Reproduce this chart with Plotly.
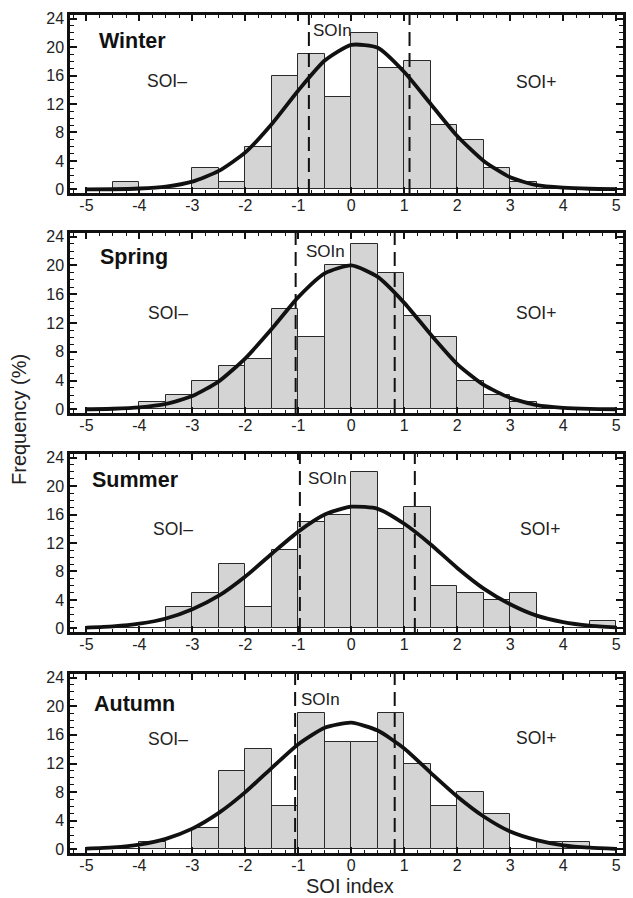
import plotly.graph_objects as go

# ---------------- data ----------------
bin_left = [-5.0, -4.5, -4.0, -3.5, -3.0, -2.5, -2.0, -1.5, -1.0, -0.5,
            0.0, 0.5, 1.0, 1.5, 2.0, 2.5, 3.0, 3.5, 4.0, 4.5]
bin_width = 0.5

winter_freq = [0, 1, 0, 0, 3, 1, 6, 16, 19, 13, 22, 17, 18, 9, 7, 3, 1, 0, 0, 0]
spring_freq = [0, 0, 1, 2, 4, 6, 7, 14, 10, 20, 23, 19, 13, 10, 4, 2, 1, 0, 0, 0]
summer_freq = [0, 0, 0, 3, 5, 9, 3, 11, 15, 16, 22, 14, 17, 6, 5, 4, 5, 0, 0, 1]
autumn_freq = [0, 0, 1, 0, 3, 11, 14, 6, 19, 15, 15, 19, 12, 6, 8, 5, 0, 1, 1, 0]

fit_x = [-5.0, -4.5, -4.0, -3.5, -3.0, -2.5, -2.0, -1.5, -1.0, -0.5, 0.0,
         0.5, 1.0, 1.5, 2.0, 2.5, 3.0, 3.5, 4.0, 4.5, 5.0]
winter_fit = [0.0, 0.03, 0.13, 0.4, 1.1, 2.6, 5.2, 9.2, 13.9, 18.1, 20.3,
              19.9, 16.5, 12.0, 7.5, 4.0, 1.7, 0.6, 0.25, 0.1, 0.05]
spring_fit = [0.02, 0.09, 0.28, 0.77, 1.85, 3.9, 7.1, 11.2, 15.6, 18.9, 20.0,
              18.4, 14.8, 10.4, 6.3, 3.4, 1.6, 0.6, 0.22, 0.07, 0.02]
summer_fit = [0.11, 0.28, 0.66, 1.39, 2.7, 4.6, 7.3, 10.5, 13.6, 16.0, 17.1,
              16.8, 14.7, 11.8, 8.5, 5.6, 3.4, 1.8, 0.9, 0.4, 0.16]
autumn_fit = [0.11, 0.28, 0.68, 1.48, 2.9, 5.1, 8.0, 11.4, 14.7, 17.0, 17.7,
              16.6, 14.1, 10.7, 7.4, 4.6, 2.5, 1.3, 0.58, 0.24, 0.09]

# SOIn class limits (dashed lines)
winter_limits = [-0.8, 1.1]
spring_limits = [-1.05, 0.82]
summer_limits = [-0.97, 1.2]
autumn_limits = [-1.06, 0.82]

season_names = ["Winter", "Spring", "Summer", "Autumn"]
x_tick_vals = [-5, -4, -3, -2, -1, 0, 1, 2, 3, 4, 5]
x_tick_text = ["-5", "-4", "-3", "-2", "-1", "0", "1", "2", "3", "4", "5"]
y_tick_vals = [0, 4, 8, 12, 16, 20, 24]
y_tick_text = ["0", "4", "8", "12", "16", "20", "24"]

# ---------------- layout helpers ----------------
FONT = "Liberation Sans, Arial, Helvetica, sans-serif"
W, H = 633, 898
# (frame top, frame bottom) in pixels for each panel
panel_px = [(15, 193), (233, 413), (454, 632), (674, 853)]
# label positions (data coordinates)
season_label_pos = [(-4.8, 20.9), (-4.78, 21.2), (-4.94, 20.8), (-4.89, 20.3)]
soin_pos = [(-0.76, 22.3), (-0.89, 21.9), (-0.85, 21.0), (-0.98, 21.0)]
soim_pos = [(-3.47, 15.2), (-3.46, 13.4), (-3.36, 14.0), (-3.46, 15.4)]
soip_pos = [(3.48, 15.1), (3.48, 13.4), (3.57, 13.9), (3.48, 15.5)]

freqs = [winter_freq, spring_freq, summer_freq, autumn_freq]
fits = [winter_fit, spring_fit, summer_fit, autumn_fit]
limits = [winter_limits, spring_limits, summer_limits, autumn_limits]

fig = go.Figure()
bin_centers = [b + bin_width / 2 for b in bin_left]
annotations = []
layout_axes = {}

for i in range(4):
    n = "" if i == 0 else str(i + 1)
    xa, ya = "x" + n, "y" + n
    fig.add_trace(go.Bar(
        x=bin_centers, y=freqs[i], width=bin_width,
        marker=dict(color="#d4d4d4", line=dict(color="#2a2a2a", width=1)),
        xaxis=xa, yaxis=ya, showlegend=False, hoverinfo="x+y"))
    fig.add_trace(go.Scatter(
        x=fit_x, y=fits[i], mode="lines",
        line=dict(color="#111111", width=3.8, shape="spline", smoothing=0.6),
        xaxis=xa, yaxis=ya, showlegend=False))
    for lim in limits[i]:
        fig.add_trace(go.Scatter(
            x=[lim, lim], y=[-0.5, 24.5], mode="lines",
            line=dict(color="#111111", width=2, dash="14px,7px"),
            xaxis=xa, yaxis=ya, showlegend=False, hoverinfo="skip"))

    top, bot = panel_px[i]
    dom_y = [1 - bot / H, 1 - top / H]
    layout_axes["xaxis" + n] = dict(
        domain=[0, 1], anchor=ya, range=[-5.31, 5.13],
        tickvals=x_tick_vals, ticktext=x_tick_text,
        ticks="inside", ticklen=6, tickwidth=1.5, tickcolor="#111",
        minor=dict(tick0=0, dtick=0.25, ticks="inside", ticklen=3,
                   tickwidth=1, tickcolor="#111"),
        showline=True, linewidth=2.5, linecolor="#111", mirror="allticks",
        showgrid=False, zeroline=False, ticklabelstandoff=-4,
        tickfont=dict(family=FONT, size=16, color="#222"))
    layout_axes["yaxis" + n] = dict(
        domain=dom_y, anchor=xa, range=[-0.5, 24.5],
        tickvals=y_tick_vals, ticktext=y_tick_text,
        ticks="inside", ticklen=7, tickwidth=1.5, tickcolor="#111",
        minor=dict(tick0=0, dtick=1, ticks="inside", ticklen=4,
                   tickwidth=1, tickcolor="#111"),
        showline=True, linewidth=2.5, linecolor="#111", mirror="allticks",
        showgrid=False, zeroline=False,
        tickfont=dict(family=FONT, size=16, color="#222"))

    sx, sy = season_label_pos[i]
    annotations.append(dict(x=sx, y=sy, xref=xa, yref=ya, text="<b>" + season_names[i] + "</b>",
                            showarrow=False, xanchor="left", yanchor="middle",
                            font=dict(family=FONT, size=21.5, color="#111")))
    nx, ny = soin_pos[i]
    annotations.append(dict(x=nx, y=ny, xref=xa, yref=ya, text="SOIn",
                            showarrow=False, xanchor="left", yanchor="middle",
                            font=dict(family=FONT, size=17, color="#222")))
    mx, my = soim_pos[i]
    annotations.append(dict(x=mx, y=my, xref=xa, yref=ya, text="SOI–",
                            showarrow=False, xanchor="center", yanchor="middle",
                            font=dict(family=FONT, size=17.5, color="#222")))
    px_, py_ = soip_pos[i]
    annotations.append(dict(x=px_, y=py_, xref=xa, yref=ya, text="SOI+",
                            showarrow=False, xanchor="center", yanchor="middle",
                            font=dict(family=FONT, size=17.5, color="#222")))

ML, MR = 70, 10
annotations.append(dict(x=(350 - ML) / (W - ML - MR), y=1 - 886 / H, xref="paper", yref="paper",
                        text="SOI index", showarrow=False, xanchor="center", yanchor="middle",
                        font=dict(family=FONT, size=20, color="#222")))
annotations.append(dict(x=(19 - ML) / (W - ML - MR), y=1 - 420 / H, xref="paper", yref="paper",
                        text="Frequency (%)", textangle=-90, showarrow=False,
                        xanchor="center", yanchor="middle",
                        font=dict(family=FONT, size=20, color="#222")))

fig.update_layout(
    width=W, height=H,
    margin=dict(l=ML, r=MR, t=0, b=0, autoexpand=False),
    paper_bgcolor="white", plot_bgcolor="white",
    bargap=0, showlegend=False,
    annotations=annotations,
    **layout_axes)

fig.write_html("out.html")
